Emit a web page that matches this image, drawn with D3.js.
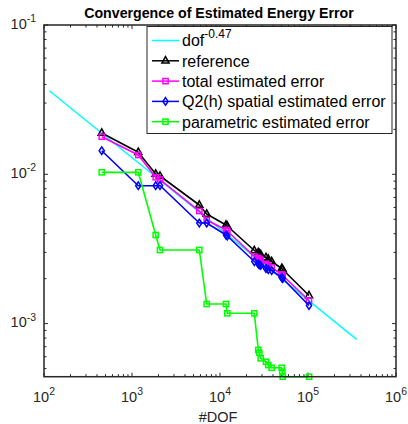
<!DOCTYPE html>
<html><head><meta charset="utf-8">
<script src="https://cdn.jsdelivr.net/npm/d3@7"></script>
<style>body{margin:0;background:#fff}svg{display:block}text{font-family:"Liberation Sans",Arial,sans-serif}</style>
</head><body><svg id="c" width="408" height="424"></svg>
<script>
// ---- data ----
const dof = [453, 1179, 1859, 2081, 5820, 7061, 11700, 12106, 24530, 27240, 27960, 29010, 33330, 35390, 38680, 50240, 51050, 51590, 102660];
const referenceErr = [0.01891, 0.01404, 0.01005, 0.009741, 0.006229, 0.005421, 0.004575, 0.004505, 0.003088, 0.002994, 0.002948, 0.002903, 0.002772, 0.002709, 0.002606, 0.002339, 0.002321, 0.002303, 0.001542];
const totalErr = [0.01786, 0.01347, 0.009548, 0.009230, 0.005678, 0.004943, 0.004236, 0.004172, 0.002815, 0.002751, 0.002709, 0.002667, 0.002508, 0.002451, 0.002376, 0.002133, 0.002116, 0.002100, 0.001428];
const spatialErr = [0.01439, 0.008387, 0.008387, 0.008414, 0.004718, 0.004718, 0.003922, 0.003861, 0.002606, 0.002508, 0.002470, 0.002451, 0.002339, 0.002303, 0.002268, 0.002036, 0.002021, 0.002005, 0.001322];
const parametricErr = [0.01031, 0.01031, 0.003922, 0.003112, 0.003112, 0.001353, 0.001353, 0.001172, 0.001172, 0.000666, 0.000638, 0.000585, 0.000555, 0.000528, 0.000506, 0.000506, 0.000476, 0.000441, 0.000441];
const rateDof = [115, 357000];
const rateErr = [0.0363, 0.000785];
const xTickExps = [2, 3, 4, 5, 6];
const yTickExps = [-1, -2, -3];
const xDomain = [100, 1e6];
const yDomain = [0.000441, 0.1];
const titleText = "Convergence of Estimated Energy Error";
const xLabelText = "#DOF";
const legendItems = [
  {base: "dof", sup: "-0.47", color: "#00ffff", marker: null},
  {base: "reference", sup: null, color: "#000000", marker: "tri"},
  {base: "total estimated error", sup: null, color: "#ff00ff", marker: "sq"},
  {base: "Q2(h) spatial estimated error", sup: null, color: "#0000ff", marker: "dia"},
  {base: "parametric estimated error", sup: null, color: "#00ff00", marker: "sq"}
];

// ---- layout ----
const L = 44, R = 396, T = 25, B = 376.7;
const svg = d3.select("#c");
const x = d3.scaleLog().domain(xDomain).range([L, R]);
const y = d3.scaleLog().domain(yDomain).range([B, T]);
const axisCol = "#262626";

function minorVals(dom) {
  const out = [];
  const a = Math.floor(Math.log10(dom[0])), b = Math.ceil(Math.log10(dom[1]));
  for (let e = a; e < b; e++) for (let k = 1; k < 10; k++) {
    const v = k * Math.pow(10, e);
    if (v >= dom[0] * 0.9999 && v <= dom[1] * 1.0001) out.push(v);
  }
  return out;
}
const xMinor = minorVals(xDomain), yMinor = minorVals(yDomain);
const xMajor = xTickExps.map(e => Math.pow(10, e)), yMajor = yTickExps.map(e => Math.pow(10, e));

const g = svg.append("g");
function drawTicks(vals, len) {
  vals.forEach(v => {
    const xp = x(v);
    g.append("line").attr("x1", xp).attr("x2", xp).attr("y1", B).attr("y2", B - len).attr("stroke", axisCol).attr("stroke-width", 1);
    g.append("line").attr("x1", xp).attr("x2", xp).attr("y1", T).attr("y2", T + len).attr("stroke", axisCol).attr("stroke-width", 1);
  });
}
function drawYTicks(vals, len) {
  vals.forEach(v => {
    const yp = y(v);
    g.append("line").attr("y1", yp).attr("y2", yp).attr("x1", L).attr("x2", L + len).attr("stroke", axisCol).attr("stroke-width", 1);
    g.append("line").attr("y1", yp).attr("y2", yp).attr("x1", R).attr("x2", R - len).attr("stroke", axisCol).attr("stroke-width", 1);
  });
}
drawTicks(xMinor.filter(v => !xMajor.includes(v)), 2.5);
drawTicks(xMajor, 4);
drawYTicks(yMinor.filter(v => !yMajor.some(m => Math.abs(m - v) / m < 1e-9)), 2.5);
drawYTicks(yMajor, 4);

// ---- series ----
const plot = svg.append("g");
const line = d3.line().x(d => x(d[0])).y(d => y(d[1]));

plot.append("path").datum(rateDof.map((d, i) => [d, rateErr[i]])).attr("d", line)
  .attr("fill", "none").attr("stroke", "#00ffff").attr("stroke-width", 1.5);

function marker(sel, type, color) {
  if (type === "tri") {
    sel.append("path").attr("d", "M0,-4.2L3.6,2.3L-3.6,2.3Z");
  } else if (type === "sq") {
    sel.append("rect").attr("x", -2.6).attr("y", -2.6).attr("width", 5.2).attr("height", 5.2);
  } else if (type === "dia") {
    sel.append("path").attr("d", "M0,-3.8L2.6,0L0,3.8L-2.6,0Z");
  }
  sel.selectAll("*").attr("fill", "none").attr("stroke", color).attr("stroke-width", 1.5);
}

function series(vals, color, type) {
  const pts = dof.map((d, i) => [d, vals[i]]);
  plot.append("path").datum(pts).attr("d", line).attr("fill", "none").attr("stroke", color).attr("stroke-width", 1.6).attr("stroke-linejoin", "round");
  pts.forEach(p => {
    const m = plot.append("g").attr("transform", `translate(${x(p[0])},${y(p[1])})`);
    marker(m, type, color);
  });
}
series(referenceErr, "#000000", "tri");
series(totalErr, "#ff00ff", "sq");
series(spatialErr, "#0000ff", "dia");
series(parametricErr, "#00ff00", "sq");

// frame
svg.append("rect").attr("x", L).attr("y", T).attr("width", R - L).attr("height", B - T)
  .attr("fill", "none").attr("stroke", axisCol).attr("stroke-width", 1.5);

// ---- tick labels ----
const fs = 14.5;
xTickExps.forEach(e => {
  const t = svg.append("text").attr("x", x(Math.pow(10, e))).attr("y", 401.5).attr("text-anchor", "middle")
    .attr("font-size", fs).attr("fill", axisCol);
  t.append("tspan").text("10");
  t.append("tspan").attr("dy", -6.5).attr("font-size", fs * 0.72).text(String(e));
});
yTickExps.forEach(e => {
  const t = svg.append("text").attr("x", 36).attr("y", y(Math.pow(10, e)) + 3.5).attr("text-anchor", "end")
    .attr("font-size", fs).attr("fill", axisCol);
  t.append("tspan").text("10");
  t.append("tspan").attr("dy", -6.5).attr("font-size", fs * 0.72).text("-" + String(-e));
});

// title and label
svg.append("text").attr("x", (L + R) / 2 - 1).attr("y", 18).attr("text-anchor", "middle")
  .attr("font-size", 14.2).attr("font-weight", "bold").attr("fill", "#000").text(titleText);
svg.append("text").attr("x", (L + R) / 2 - 2).attr("y", 421.5).attr("text-anchor", "middle")
  .attr("font-size", fs).attr("fill", axisCol).text(xLabelText);

// ---- legend ----
const lg = svg.append("g");
const lgX = 147, lgY = 26.5, lgW = 245, lgH = 107;
lg.append("rect").attr("x", lgX).attr("y", lgY).attr("width", lgW).attr("height", lgH)
  .attr("fill", "#fff").attr("stroke", axisCol).attr("stroke-width", 1);
legendItems.forEach((it, i) => {
  const cy = 40.5 + i * 20.3;
  lg.append("line").attr("x1", 152).attr("x2", 179).attr("y1", cy).attr("y2", cy).attr("stroke", it.color).attr("stroke-width", 1.5);
  if (it.marker) {
    const m = lg.append("g").attr("transform", `translate(165.5,${cy})`);
    marker(m, it.marker, it.color);
  }
  const t = lg.append("text").attr("x", 182).attr("y", cy + 5.8).attr("font-size", 16).attr("fill", "#000");
  t.append("tspan").text(it.base);
  if (it.sup) t.append("tspan").attr("dy", -8).attr("font-size", 12).text(it.sup);
});
</script></body></html>
